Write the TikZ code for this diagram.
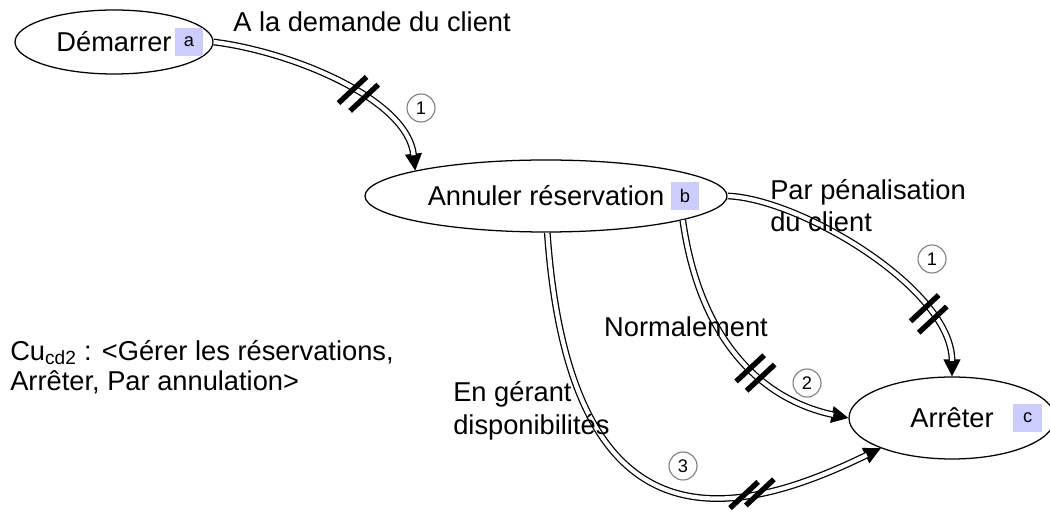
\documentclass[tikz,border=0pt]{standalone}
\usepackage{fontspec}
\setmainfont{Liberation Sans}
\usepackage{tikz}
\usetikzlibrary{positioning,arrows.meta,shapes.geometric,decorations.markings}
\definecolor{tagblue}{RGB}{204,204,255}
\definecolor{ringgray}{RGB}{128,128,128}
\newcommand{\bigtxt}{\fontsize{19.4}{22.8}\selectfont}
\newcommand{\tickbar}{\pgftransformresetnontranslations
  \draw[line width=3.8pt, shorten >=0pt, shorten <=0pt] (223:0.48) -- (43:0.48);}

\tikzset{
  usecase/.style={ellipse, draw, line width=0.9pt, inner sep=0pt, font=\bigtxt},
  tag/.style={fill=tagblue, minimum size=0.72cm, inner sep=0pt, font=\fontsize{13}{15}\selectfont},
  seqnum/.style={circle, draw=ringgray, line width=0.8pt, minimum size=0.7cm, inner sep=0pt, font=\fontsize{13}{15}\selectfont},
  lbl/.style={inner sep=0pt, font=\bigtxt},
  flow/.style={double, double distance=3pt, line width=0.9pt, shorten >=11pt},
  flowtip/.style={line width=0.9pt, -{Triangle[length=12pt,width=12pt]}},
  ticks/.style 2 args={postaction={decorate, decoration={markings,
      mark=at position #1 with {\tickbar}, mark=at position #2 with {\tickbar}}}}
}

\begin{document}
\begin{tikzpicture}
\useasboundingbox (0,0) rectangle (26.25,-12.8);
% use cases
\node[usecase, minimum width=4.95cm, minimum height=1.6cm] (dem) at (2.85,-1.05) {Démarrer};
\node[usecase, minimum width=9.05cm, minimum height=1.8cm] (ann) at (13.65,-4.9) {Annuler réservation};
\node[usecase, minimum width=5.15cm, minimum height=2.05cm] (arr) at (23.8,-10.45) {Arrêter};
\node[tag, left=0.25cm of dem.east] (taga) {a};
\node[tag, left=0.7cm of ann.east] (tagb) {b};
\node[tag, left=0.33cm of arr.east] (tagc) {c};
% flows: thin line with tip, then the double line over it
\draw[flowtip] (dem.east) .. controls +(-7:1.95) and +(96:1.8) .. (ann.169);
\draw[flow, ticks={3.7cm}{4.05cm}] (dem.east) .. controls +(-7:1.95) and +(96:1.8) .. (ann.169);
\draw[flowtip] (ann.east) .. controls +(-2:1.8) and +(90:2.2) .. (arr.north);
\draw[flow, ticks={5.8cm}{6.15cm}] (ann.east) .. controls +(-2:1.8) and +(90:2.2) .. (arr.north);
\draw[flowtip] (ann.-10) .. controls +(-82:3) and +(168:2.25) .. (arr.west);
\draw[flow, ticks={4.15cm}{4.5cm}] (ann.-10) .. controls +(-82:3) and +(168:2.25) .. (arr.west);
\draw[flowtip] (ann.-88) .. controls +(-86:8.1) and +(206:4.1) .. (arr.203);
\draw[flow, ticks={9.4cm}{9.8cm}] (ann.-88) .. controls +(-86:8.1) and +(206:4.1) .. (arr.203);
% order numbers
\node[seqnum] (n1a) at (10.525,-2.7) {1};
\node[seqnum] (n1b) at (23.3,-6.475) {1};
\node[seqnum] (n2) at (20.175,-9.575) {2};
\node[seqnum] (n3) at (17.075,-11.65) {3};
% labels
\node[lbl, anchor=west] (ldem) at (5.825,-0.55) {A la demande du client};
\node[lbl, anchor=west, align=left] (lpen) at (19.25,-5.15) {Par pénalisation\\du client};
\node[lbl] (lnorm) at (17.15,-8.175) {Normalement};
\node[lbl, anchor=west, align=left, font=\fontsize{19.4}{23.5}\selectfont] (lgest) at (11.325,-10.275) {En gérant\\disponibilités};
\node[lbl, anchor=west, align=left, font=\fontsize{19.4}{21.3}\selectfont] (lcu) at (0.25,-9.175) {Cu\textsubscript{cd2} : <Gérer les réservations,\\Arrêter, Par annulation>};
\end{tikzpicture}
\end{document}
